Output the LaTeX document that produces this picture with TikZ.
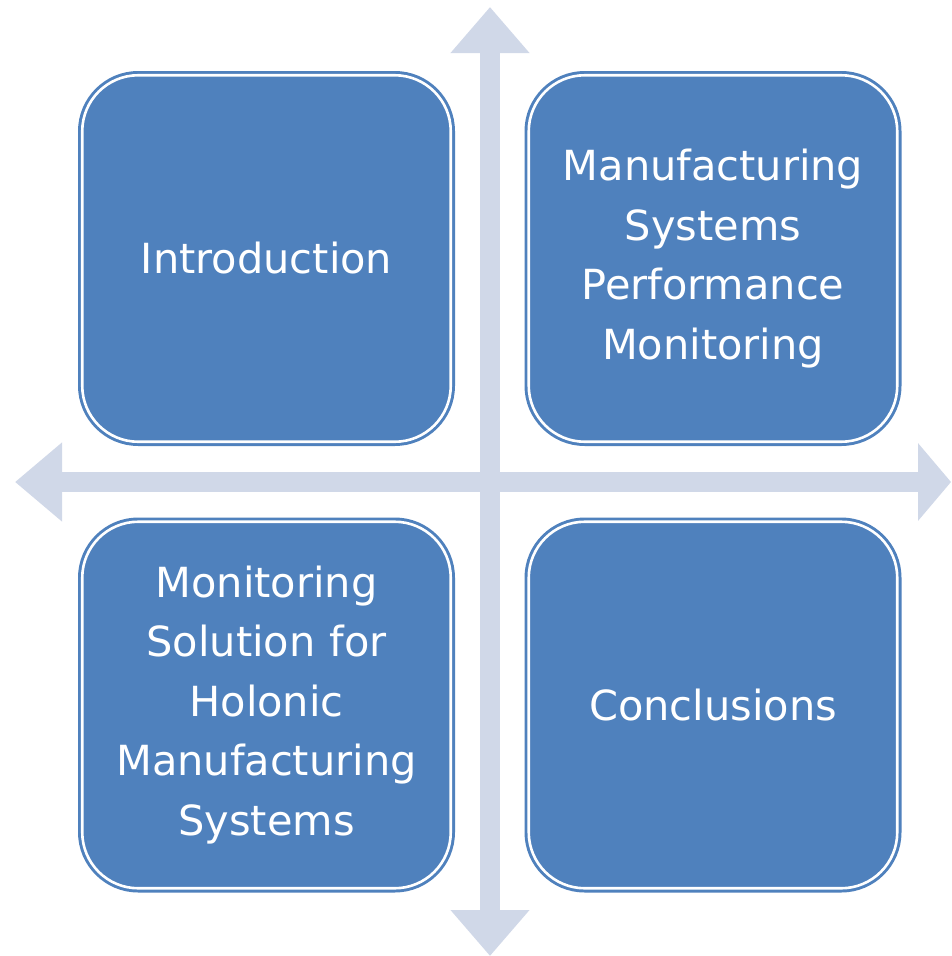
\documentclass[tikz,border=0pt]{standalone}
\usepackage{fontspec}
\setmainfont{DejaVu Sans}
\usetikzlibrary{arrows.meta}
\definecolor{boxblue}{HTML}{4F81BD}
\definecolor{arrowgray}{HTML}{D0D8E8}
\definecolor{bggray}{HTML}{F1F1F1}
\pgfdeclareradialshading{bgshade}{\pgfpoint{0bp}{0bp}}{color(0bp)=(white); color(34bp)=(white); color(44bp)=(bggray); color(50bp)=(bggray)}
\begin{document}
\begin{tikzpicture}[x=1pt,y=-1pt,
  quad/.style={rectangle, rounded corners=56pt, fill=boxblue, draw=white,
    line width=2.6pt, preaction={draw=boxblue, line width=8.5pt},
    minimum width=368.5pt, minimum height=366.5pt, inner sep=0pt,
    text=white, align=center, text width=360pt,
    font=\fontsize{41.5pt}{59.5pt}\selectfont},
  bigarrow/.style={draw=arrowgray, line width=20pt}]
\useasboundingbox (0,0) rectangle (951,956);
\begin{scope}
  \clip (0,0) rectangle (951,956);
  \shade[shading=bgshade] (475.5,478) circle[radius=675];
\end{scope}
% soft white glow behind each box
\foreach \cx/\cy in {266.5/258.5, 713/258.5, 266.5/705, 713/705}{
  \foreach \d/\o in {14/0.15, 10/0.25, 6/0.45, 3/0.8}{
    \fill[white, rounded corners=60pt+\d pt, opacity=\o]
      (\cx-188.5-\d,\cy-187.5-\d) rectangle (\cx+188.5+\d,\cy+187.5+\d);
  }
}
% cross of double arrows
\coordinate (top) at (490,7);
\coordinate (bottom) at (490,956);
\coordinate (left) at (15,482);
\coordinate (right) at (951,482);
\draw[bigarrow, {Triangle[length=46pt,width=76pt]}-{Triangle[length=46pt,width=76pt]}] (top) -- (bottom);
\draw[bigarrow, {Triangle[length=47pt,width=76pt]}-{Triangle[length=33pt,width=76pt]}] (left) -- (right);
% boxes
\node[quad] (intro) at (266.5,258.5) {Introduction};
\node[quad] (perf) at (713,258.5) {Manufacturing\\Systems\\Performance\\Monitoring};
\node[quad] (holonic) at (266.5,705) {Monitoring\\Solution for\\Holonic\\Manufacturing\\Systems};
\node[quad] (concl) at (713,705) {Conclusions};
\end{tikzpicture}
\end{document}
